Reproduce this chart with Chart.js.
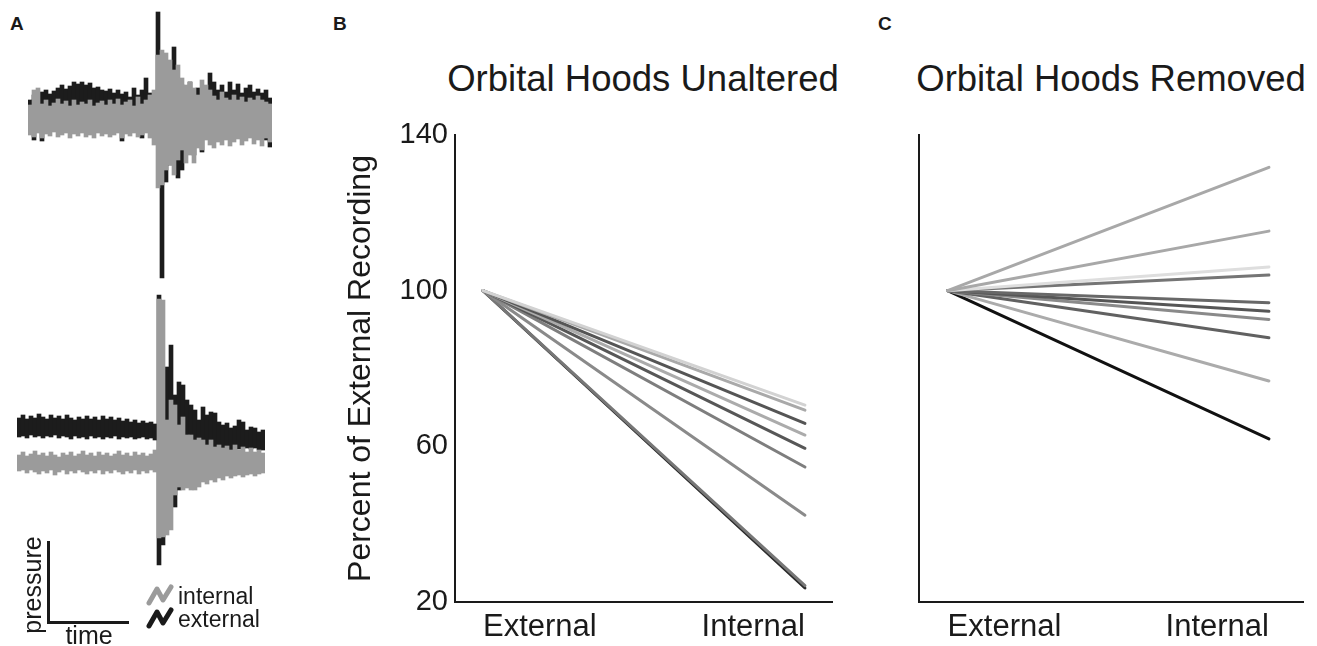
<!DOCTYPE html>
<html>
<head>
<meta charset="utf-8">
<title>Orbital hoods pressure recordings</title>
<script src="https://cdn.jsdelivr.net/npm/chart.js@4.4.1/dist/chart.umd.min.js"></script>
<style>
  body { margin: 0; background: #fff; font-family: "Liberation Sans", Arial, sans-serif; color: #1a1a1a; }
  #fig { position: relative; width: 1317px; height: 646px; overflow: hidden; }
  .box { position: absolute; }
  .letter { position: absolute; font-weight: bold; font-size: 19px; line-height: 19px; }
  .bar { position: absolute; background: #1a1a1a; }
  .txt { position: absolute; white-space: nowrap; }
  .title { position: absolute; top: 57px; width: 460px; line-height: 44px; font-size: 36.5px; text-align: center; white-space: nowrap; }
</style>
</head>
<body>
<div id="fig">
  <div class="letter" style="left:10px; top:14px;">A</div>
  <div class="letter" style="left:333px; top:14px;">B</div>
  <div class="letter" style="left:878px; top:14px;">C</div>

  <div class="title" style="left:413px;">Orbital Hoods Unaltered</div>
  <div class="title" style="left:881px;">Orbital Hoods Removed</div>

  <!-- panel A traces -->
  <div class="box" style="left:28px; top:0px; width:244px; height:290px;"><canvas id="traceTop"></canvas></div>
  <div class="box" style="left:17px; top:290px; width:248px; height:290px;"><canvas id="traceBot"></canvas></div>

  <!-- scale bar -->
  <div class="bar" style="left:47px; top:541px; width:3px; height:83px;"></div>
  <div class="bar" style="left:47px; top:621px; width:82px; height:3px;"></div>
  <div class="txt" style="left:-23px; top:570px; width:110px; height:30px; line-height:30px; font-size:25px; text-align:center; transform:rotate(-90deg);">pressure</div>
  <div class="txt" style="left:60px; top:620px; width:58px; line-height:30px; font-size:25px; text-align:center;">time</div>

  <!-- legend -->
  <svg class="box" style="left:146px; top:584px;" width="28" height="22"><polyline points="3,19 11,5 17,16 25,3" fill="none" stroke="#9b9b9b" stroke-width="5" stroke-linejoin="round" stroke-linecap="round"/></svg>
  <div class="txt" style="left:178px; top:583px; line-height:26px; font-size:23px;">internal</div>
  <svg class="box" style="left:146px; top:607px;" width="28" height="22"><polyline points="3,19 11,5 17,16 25,3" fill="none" stroke="#1a1a1a" stroke-width="5" stroke-linejoin="round" stroke-linecap="round"/></svg>
  <div class="txt" style="left:178px; top:606px; line-height:26px; font-size:23px;">external</div>

  <!-- panels B and C -->
  <div class="box" style="left:340px; top:40px; width:500px; height:607px;"><canvas id="unaltered"></canvas></div>
  <div class="box" style="left:905px; top:40px; width:410px; height:607px;"><canvas id="removed"></canvas></div>
</div>

<script>
// B / C: percent of external recording, external is always 100
const categories = ['External', 'Internal'];
const externalValue = 100;
const unalteredInternal = [70.6, 69.3, 65.9, 62.9, 59.5, 54.7, 42.3, 24.2, 23.6];
const removedInternal = [131.7, 115.3, 106.1, 104.0, 96.9, 94.7, 92.6, 87.9, 76.8, 61.9];
const yTicks = [20, 60, 100, 140];

// A: pressure traces (arbitrary units), min/max per time bin
const topIntHi = [13,28,30,14,18,12,15,19,14,17,12,18,13,16,14,18,12,15,17,13,18,14,19,13,16,18,12,21,14,18,23,28,63,68,65,58,48,53,40,33,36,30,23,38,33,28,22,18,26,20,18,23,18,21,16,20,18,22,18,16,14];
const topIntLo = [-17,-19,-15,-20,-16,-18,-14,-19,-17,-15,-20,-16,-18,-15,-19,-17,-20,-15,-18,-16,-19,-17,-15,-20,-16,-18,-15,-19,-17,-15,-20,-27,-70,-67,-52,-47,-57,-42,-32,-45,-37,-45,-30,-32,-22,-27,-30,-24,-27,-22,-28,-24,-21,-27,-23,-20,-26,-22,-28,-20,-24];
const topExtHi = [18,23,21,26,28,24,27,30,33,29,32,36,34,36,33,35,30,31,28,27,29,25,28,24,26,21,30,23,28,40,25,23,106,18,48,53,71,38,33,23,36,28,30,26,23,45,36,28,33,26,36,28,34,25,30,33,26,29,25,28,20];
const topExtLo = [-10,-22,-9,-23,-11,-8,-12,-10,-9,-11,-8,-10,-12,-9,-10,-11,-8,-10,-9,-12,-10,-8,-11,-23,-9,-10,-12,-8,-20,-10,-9,-11,-2,-160,-64,-47,3,-60,-52,-22,-32,-37,-22,-34,-12,-13,-11,-12,-10,-13,-12,-11,-10,-12,-13,-11,-12,-10,-12,-22,-29];

const botIntHi = [-10,-7,-11,-9,-6,-10,-8,-11,-7,-10,-12,-8,-10,-7,-11,-9,-6,-10,-8,-11,-7,-10,-8,-11,-9,-6,-10,-8,-11,-7,-10,-8,-11,-9,-5,146,145,25,45,40,20,28,10,10,5,7,5,0,5,-2,0,-3,-1,-5,0,-5,-2,-7,-3,-7,-5,-8];
const botIntLo = [-26,-25,-28,-25,-27,-29,-26,-28,-25,-30,-27,-25,-29,-26,-28,-25,-27,-29,-26,-28,-25,-29,-26,-28,-25,-27,-29,-26,-28,-25,-29,-26,-28,-25,-27,-93,-92,-90,-85,-50,-42,-45,-43,-45,-45,-42,-37,-39,-35,-37,-33,-35,-31,-33,-31,-30,-32,-30,-29,-31,-29,-28];
const botExtHi = [27,30,26,29,27,31,28,26,30,27,29,26,30,27,25,28,26,29,26,28,25,29,26,28,25,27,24,26,23,25,22,24,22,23,21,150,55,78,100,50,63,60,45,40,35,25,38,30,33,32,23,20,22,17,19,25,23,15,18,17,13,15];
const botExtLo = [8,9,7,10,8,9,7,9,8,10,7,9,8,6,9,7,8,6,9,7,8,6,8,7,9,6,8,7,8,6,7,8,6,7,5,-120,-100,-25,-55,-62,-45,-25,-20,-17,-15,-13,-11,-10,-10,-7,-7,-6,-5,-5,-4,-4,-3,-3,-4,-3,-5,-5];

// line colours (one per fish)
const unalteredColors = ['#d2d2d2', '#a9a9a9', '#555555', '#ababab', '#575757', '#7e7e7e', '#8a8a8a', '#777777', '#2a2a2a'];
const removedColors = ['#a8a8a8', '#a8a8a8', '#dedede', '#757575', '#686868', '#565656', '#8a8a8a', '#616161', '#ababab', '#111111'];

const ink = '#1a1a1a';
Chart.defaults.font.family = '"Liberation Sans", Arial, sans-serif';
Chart.defaults.color = ink;

// trace panels
function traceChart(id, intHi, intLo, extHi, extLo, yMin, yMax) {
    new Chart(document.getElementById(id), {
        type: 'bar',
        data: {
            labels: extHi.map((_, i) => i),
            datasets: [{
                label: 'internal',
                data: intHi.map((h, i) => [intLo[i], h]),
                backgroundColor: '#9b9b9b'
            }, {
                label: 'external',
                data: extHi.map((h, i) => [extLo[i], h]),
                backgroundColor: '#1c1c1c'
            }]
        },
        options: {
            animation: false,
            responsive: true,
            maintainAspectRatio: false,
            events: [],
            layout: { padding: 0 },
            datasets: {
                bar: { grouped: false, barPercentage: 1, categoryPercentage: 1, borderWidth: 0 }
            },
            plugins: { legend: { display: false }, tooltip: { enabled: false } },
            scales: {
                x: { display: false },
                y: { display: false, min: yMin, max: yMax }
            }
        }
    });
}

traceChart('traceTop', topIntHi, topIntLo, topExtHi, topExtLo, -172, 118);
traceChart('traceBot', botIntHi, botIntLo, botExtHi, botExtLo, -135, 155);

// percent panels
function lineSets(values, colors) {
    return values.map((v, i) => ({
        data: [{ x: 0, y: externalValue }, { x: 1, y: v }],
        borderColor: colors[i],
        borderWidth: 3,
        borderCapStyle: 'round',
        pointRadius: 0,
        tension: 0
    }));
}

function percentChart(id, values, colors, opts) {
    new Chart(document.getElementById(id), {
        type: 'line',
        data: { datasets: lineSets(values, colors) },
        options: {
            animation: false,
            responsive: true,
            maintainAspectRatio: false,
            events: [],
            layout: { padding: { left: 0, right: opts.padRight, top: 95, bottom: 0 } },
            plugins: {
                legend: { display: false },
                tooltip: { enabled: false }
            },
            scales: {
                x: {
                    type: 'linear',
                    min: opts.xMin,
                    max: opts.xMax,
                    grid: { display: false, drawTicks: false },
                    border: { display: true, color: ink, width: 2 },
                    ticks: {
                        stepSize: 1,
                        includeBounds: false,
                        align: 'inner',
                        padding: 7,
                        maxRotation: 0,
                        color: ink,
                        font: { size: 31 },
                        callback: (v) => categories[v] ?? ''
                    },
                    afterFit: (s) => { s.height = 45; }
                },
                y: {
                    min: yTicks[0],
                    max: yTicks[yTicks.length - 1],
                    grid: { display: false, drawTicks: false },
                    border: { display: true, color: ink, width: 2 },
                    ticks: {
                        display: opts.showY,
                        stepSize: yTicks[1] - yTicks[0],
                        padding: 7,
                        color: ink,
                        font: { size: 29 }
                    },
                    title: {
                        display: opts.showY,
                        text: 'Percent of External Recording',
                        color: ink,
                        font: { size: 32 },
                        padding: { top: 2, bottom: 0 }
                    },
                    afterFit: (s) => { s.width = opts.yWidth; }
                }
            }
        }
    });
}

percentChart('unaltered', unalteredInternal, unalteredColors,
    { xMin: -0.087, xMax: 1.084, yWidth: 115, padRight: 8, showY: true });
percentChart('removed', removedInternal, removedColors,
    { xMin: -0.089, xMax: 1.106, yWidth: 14, padRight: 12, showY: false });
</script>
</body>
</html>
